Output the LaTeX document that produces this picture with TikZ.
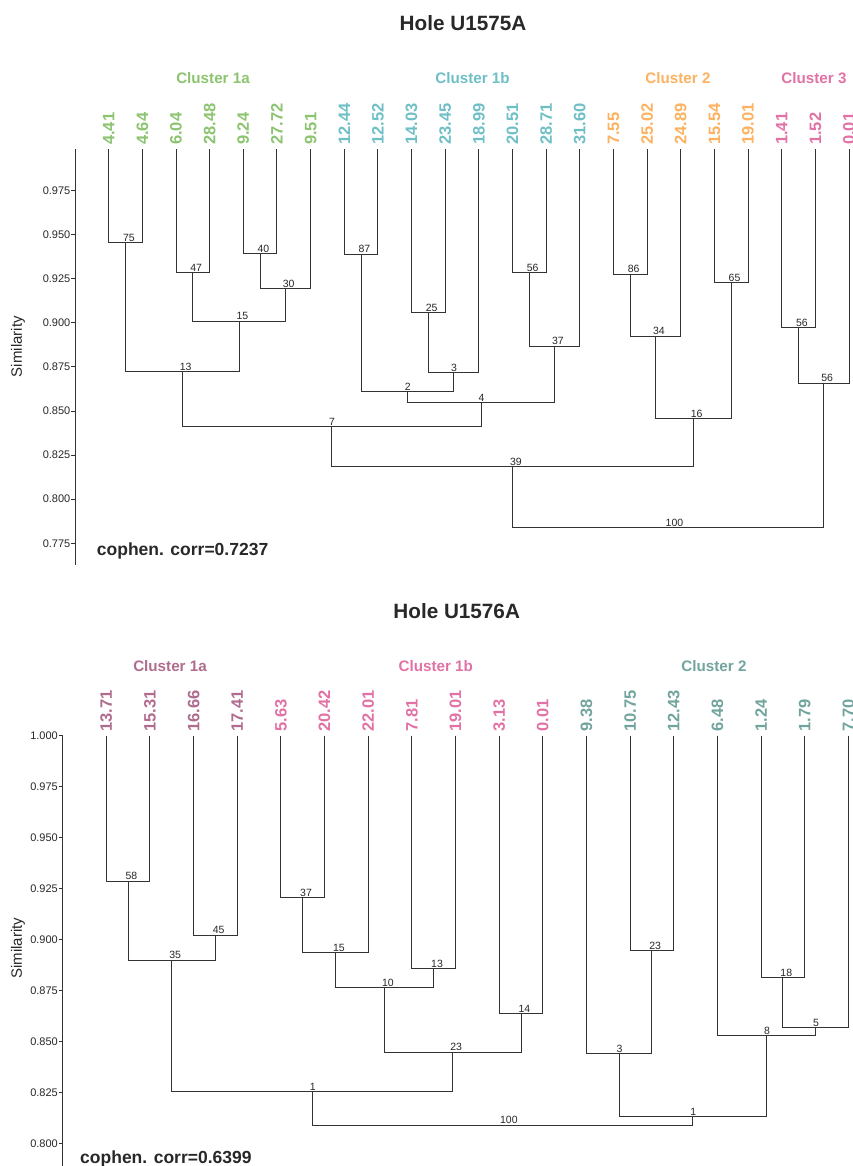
\documentclass[tikz,border=0pt]{standalone}
\usepackage{fontspec}
\setmainfont{Liberation Sans}
\usetikzlibrary{calc}
\definecolor{cg}{RGB}{140,196,112}
\definecolor{ct}{RGB}{110,192,198}
\definecolor{co}{RGB}{252,178,96}
\definecolor{cp}{RGB}{226,114,166}
\definecolor{cm}{RGB}{176,108,142}
\definecolor{cq}{RGB}{114,164,158}
\definecolor{ink}{RGB}{40,40,40}
\newcommand\mrg[6]{%
  \coordinate (#1) at (#2,#3);
  \draw[dl] (#5) |- (#1);
  \draw[dl] (#6) |- (#1);
  \node[nl] (#1l) at ([xshift=-2.7pt,yshift=0.8pt]#1) {#4};}
\begin{document}
\begin{tikzpicture}[x=1pt,y=-1pt,
  dl/.style={line width=1pt,draw=black!80},
  axl/.style={line width=1pt,draw=black!80},
  nl/.style={anchor=south west,inner sep=0pt,font=\fontsize{10.5}{11}\selectfont,text=ink},
  tkl/.style={anchor=east,inner sep=0pt,font=\fontsize{11}{12}\selectfont,text=ink},
  leaf/.style={anchor=west,rotate=90,inner sep=0pt,font=\fontsize{16.5}{18}\selectfont\bfseries},
  clus/.style={inner sep=0pt,font=\fontsize{15.2}{17}\selectfont\bfseries},
  ttl/.style={inner sep=0pt,font=\fontsize{20.7}{23}\selectfont\bfseries,text=ink},
  yl/.style={rotate=90,inner sep=0pt,font=\fontsize{15}{17}\selectfont,text=ink},
  coph/.style={anchor=base west,inner sep=0pt,font=\fontsize{17.5}{19}\selectfont\bfseries,text=ink}]
\useasboundingbox[fill=white] (0,0) rectangle (853,1166);

% ================= TOP PANEL =================
\node[ttl] (title1) at (463,23) {Hole U1575A};
\node[clus,text=cg] (c1a) at (213,77.8) {Cluster 1a};
\node[clus,text=ct] (c1b) at (472.5,77.8) {Cluster 1b};
\node[clus,text=co] (c2) at (678,77.8) {Cluster 2};
\node[clus,text=cp] (c3) at (814,77.8) {Cluster 3};

\coordinate (ax1t) at (75.3,149.3);
\coordinate (ax1b) at (75.3,565);
\draw[axl] (ax1t) -- (ax1b);
\foreach \v/\yy [count=\k] in {0.975/190.5,0.950/234.6,0.925/278.7,0.900/322.8,0.875/366.9,0.850/411.0,0.825/455.1,0.800/499.2,0.775/543.3}{
  \coordinate (tk1\k) at (71.3,\yy);
  \draw[axl] (tk1\k) -- (75.3,\yy);
  \node[tkl] (tl1\k) at (70.5,\yy) {\v};
}
\node[yl] (ylab1) at (18,346.7) {Similarity};

\foreach \lab/\col [count=\i from 0] in {4.41/cg,4.64/cg,6.04/cg,28.48/cg,9.24/cg,27.72/cg,9.51/cg,12.44/ct,12.52/ct,14.03/ct,23.45/ct,18.99/ct,20.51/ct,28.71/ct,31.60/ct,7.55/co,25.02/co,24.89/co,15.54/co,19.01/co,1.41/cp,1.52/cp,0.01/cp}{
  \coordinate (T\i) at ({108.7+33.65*\i},149.3);
  \node[leaf,text=\col] (TL\i) at ({108.7+33.65*\i},145) {\lab};
}

\mrg{a75}{125.5}{242.7}{75}{T0}{T1}
\mrg{a47}{192.8}{272.7}{47}{T2}{T3}
\mrg{a40}{260.1}{253.3}{40}{T4}{T5}
\mrg{a30}{285.4}{288.7}{30}{a40}{T6}
\mrg{a15}{239.1}{321}{15}{a47}{a30}
\mrg{a13}{182.3}{371.7}{13}{a75}{a15}
\mrg{b87}{361.1}{254}{87}{T7}{T8}
\mrg{b25}{428.4}{312.3}{25}{T9}{T10}
\mrg{b3}{453.6}{372.7}{3}{b25}{T11}
\mrg{b2}{407.4}{391}{2}{b87}{b3}
\mrg{b56}{529.3}{272.3}{56}{T12}{T13}
\mrg{b37}{554.6}{346}{37}{b56}{T14}
\mrg{b4}{481.0}{402.7}{4}{b2}{b37}
\mrg{a7}{331.7}{426}{7}{a13}{b4}
\mrg{c86}{630.3}{274}{86}{T15}{T16}
\mrg{c34}{655.5}{336}{34}{c86}{T17}
\mrg{c65}{731.2}{282.3}{65}{T18}{T19}
\mrg{c16}{693.4}{418.7}{16}{c34}{c65}
\mrg{r39}{512.5}{466.7}{39}{a7}{c16}
\mrg{d56}{798.5}{327.3}{56}{T20}{T21}
\mrg{d56b}{823.8}{383}{56}{d56}{T22}
\mrg{r100}{668.2}{527.3}{100}{r39}{d56b}

\node[coph] (coph1) at (96.7,555) {cophen. corr=0.7237};

% ================= BOTTOM PANEL =================
\node[ttl] (title2) at (456.7,611.3) {Hole U1576A};
\node[clus,text=cm] (e1a) at (170,665.8) {Cluster 1a};
\node[clus,text=cp] (e1b) at (435.8,665.8) {Cluster 1b};
\node[clus,text=cq] (e2) at (714,665.8) {Cluster 2};

\coordinate (ax2t) at (62.7,735.7);
\coordinate (ax2b) at (62.7,1166);
\draw[axl] (ax2t) -- (ax2b);
\foreach \v/\yy [count=\k] in {1.000/735.7,0.975/786.65,0.950/837.6,0.925/888.55,0.900/939.5,0.875/990.45,0.850/1041.4,0.825/1092.35,0.800/1143.3}{
  \coordinate (tk2\k) at (58.7,\yy);
  \draw[axl] (tk2\k) -- (62.7,\yy);
  \node[tkl] (tl2\k) at (58,\yy) {\v};
}
\node[yl] (ylab2) at (18,948.3) {Similarity};

\foreach \lab/\col [count=\i from 0] in {13.71/cm,15.31/cm,16.66/cm,17.41/cm,5.63/cp,20.42/cp,22.01/cp,7.81/cp,19.01/cp,3.13/cp,0.01/cp,9.38/cq,10.75/cq,12.43/cq,6.48/cq,1.24/cq,1.79/cq,7.70/cq}{
  \coordinate (B\i) at ({106.3+43.65*\i},735.7);
  \node[leaf,text=\col] (BL\i) at ({106.3+43.65*\i},731.7) {\lab};
}

\mrg{e58}{128.1}{881}{58}{B0}{B1}
\mrg{e45}{215.4}{935}{45}{B2}{B3}
\mrg{e35}{171.8}{960}{35}{e58}{e45}
\mrg{f37}{302.7}{897.3}{37}{B4}{B5}
\mrg{f15}{335.5}{952.7}{15}{f37}{B6}
\mrg{f13}{433.7}{968.7}{13}{B7}{B8}
\mrg{f10}{384.6}{987.3}{10}{f15}{f13}
\mrg{f14}{521.0}{1013}{14}{B9}{B10}
\mrg{f23}{452.8}{1052}{23}{f10}{f14}
\mrg{e1}{312.3}{1091.7}{1}{e35}{f23}
\mrg{g23}{651.9}{950.7}{23}{B12}{B13}
\mrg{g3}{619.2}{1053.3}{3}{B11}{g23}
\mrg{g18}{782.9}{977.3}{18}{B15}{B16}
\mrg{g5}{815.6}{1027.3}{5}{g18}{B17}
\mrg{g8}{766.5}{1035.7}{8}{B14}{g5}
\mrg{g1}{692.9}{1116.7}{1}{g3}{g8}
\mrg{s100}{502.6}{1125}{100}{e1}{g1}

\node[coph] (coph2) at (80,1163.3) {cophen. corr=0.6399};
\end{tikzpicture}
\end{document}
